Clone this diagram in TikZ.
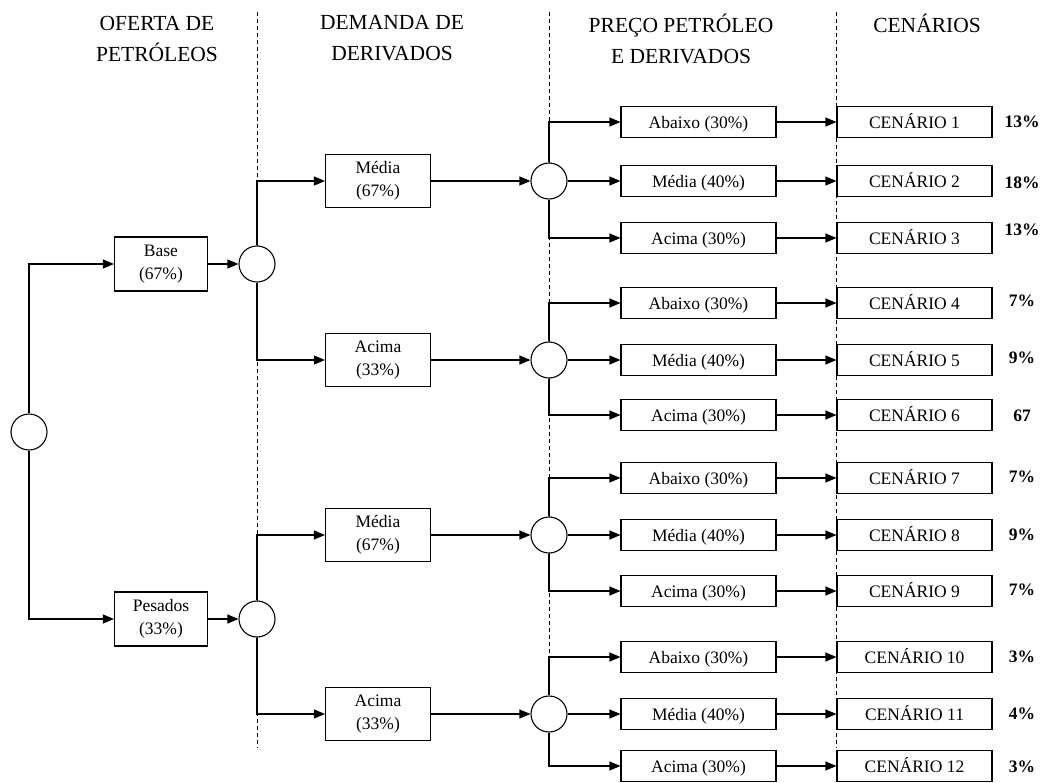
\documentclass[tikz,border=0pt]{standalone}
\usepackage{fontspec}
\setmainfont{Liberation Serif}
\usetikzlibrary{arrows.meta}
\begin{document}
\begin{tikzpicture}[x=1pt,y=-1pt,
  line width=1.1pt,
  arr/.style={-{Triangle[length=11pt,width=9pt]}},
  chance/.style={draw,circle,minimum size=36pt,inner sep=0pt,fill=white},
  boxa/.style={draw,minimum width=93pt,minimum height=54pt,align=center,font=\fontsize{17.5}{23}\selectfont,inner sep=0pt},
  boxb/.style={draw,minimum width=105pt,minimum height=53pt,align=center,font=\fontsize{17.5}{23}\selectfont,inner sep=0pt},
  box3/.style={draw,minimum width=155pt,minimum height=31pt,text height=13.5pt,text depth=1.5pt,font=\fontsize{17.5}{20}\selectfont,inner sep=0pt},
  hdr/.style={align=center,font=\fontsize{21.5}{31}\selectfont},
  pct/.style={font=\fontsize{17.5}{20}\selectfont\bfseries},
  sep/.style={line width=0.8pt,dash pattern=on 4pt off 3pt}]
\useasboundingbox (0,0) rectangle (1043,782);
% separators
\coordinate (d1t) at (257,12); \coordinate (d1b) at (257,748);
\coordinate (d2t) at (549,12); \coordinate (d2b) at (549,748);
\coordinate (d3t) at (836,12); \coordinate (d3b) at (836,748);
\draw[sep] (d1t) -- (d1b);
\draw[sep] (d2t) -- (d2b);
\draw[sep] (d3t) -- (d3b);
% headers
\node[hdr] (h1) at (157,38.5) {OFERTA DE\\PETRÓLEOS};
\node[hdr] (h2) at (392,38.5) {DEMANDA DE\\DERIVADOS};
\node[hdr] (h3) at (681,38.5) {PREÇO PETRÓLEO\\E DERIVADOS};
\node[hdr] (h4) at (927,23) {CENÁRIOS};
% level 0/1
\node[chance] (root) at (29,432) {};
\node[boxa] (base) at (161,264) {Base\\(67\%)};
\node[boxa] (pes) at (161,619) {Pesados\\(33\%)};
\draw[arr] (root.north) |- (base.west);
\draw[arr] (root.south) |- (pes.west);
\node[chance] (c11) at (257,264) {};
\node[chance] (c12) at (257,619) {};
\draw[arr] (base.east) -- (c11.west);
\draw[arr] (pes.east) -- (c12.west);
% level 2
\node[boxb] (m1) at (378,181) {Média\\(67\%)};
\node[boxb] (a1) at (378,360) {Acima\\(33\%)};
\node[boxb] (m2) at (378,535) {Média\\(67\%)};
\node[boxb] (a2) at (378,714) {Acima\\(33\%)};
\draw[arr] (c11.north) |- (m1.west);
\draw[arr] (c11.south) |- (a1.west);
\draw[arr] (c12.north) |- (m2.west);
\draw[arr] (c12.south) |- (a2.west);
\node[chance] (c21) at (549,181) {};
\node[chance] (c22) at (549,360) {};
\node[chance] (c23) at (549,535) {};
\node[chance] (c24) at (549,714) {};
\draw[arr] (m1.east) -- (c21.west);
\draw[arr] (a1.east) -- (c22.west);
\draw[arr] (m2.east) -- (c23.west);
\draw[arr] (a2.east) -- (c24.west);
% level 3 and scenarios
\foreach \n/\y/\t/\p/\py in {
  1/122/Abaixo (30\%)/13\%/122,
  2/181/Média (40\%)/18\%/183,
  3/238/Acima (30\%)/13\%/230,
  4/303/Abaixo (30\%)/7\%/301,
  5/360/Média (40\%)/9\%/358,
  6/415/Acima (30\%)/67/416,
  7/478/Abaixo (30\%)/7\%/477,
  8/535/Média (40\%)/9\%/535,
  9/591/Acima (30\%)/7\%/590,
  10/657/Abaixo (30\%)/3\%/657,
  11/714/Média (40\%)/4\%/714,
  12/766/Acima (30\%)/3\%/767}{
  \node[box3] (l\n) at (698.5,\y) {\t};
  \node[box3] (s\n) at (914.5,\y) {CENÁRIO \n};
  \node[pct] (p\n) at (1022,\py) {\p};
  \draw[arr] (l\n.east) -- (s\n.west);
}
\draw[arr] (c21.north) |- (l1.west);
\draw[arr] (c21.east) -- (l2.west);
\draw[arr] (c21.south) |- (l3.west);
\draw[arr] (c22.north) |- (l4.west);
\draw[arr] (c22.east) -- (l5.west);
\draw[arr] (c22.south) |- (l6.west);
\draw[arr] (c23.north) |- (l7.west);
\draw[arr] (c23.east) -- (l8.west);
\draw[arr] (c23.south) |- (l9.west);
\draw[arr] (c24.north) |- (l10.west);
\draw[arr] (c24.east) -- (l11.west);
\draw[arr] (c24.south) |- (l12.west);
\end{tikzpicture}
\end{document}
